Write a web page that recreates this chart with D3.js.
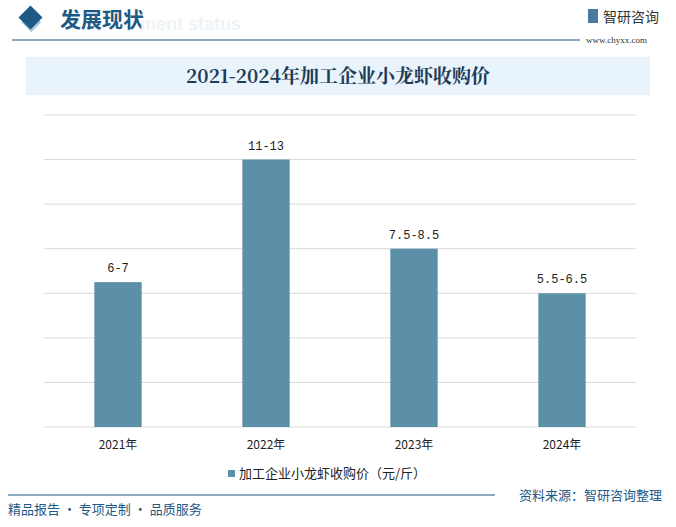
<!DOCTYPE html><html><head><meta charset="utf-8">
<script src="https://cdn.jsdelivr.net/npm/d3@7"></script>
<style>body{margin:0;background:#fff}svg{display:block;font-family:"Noto Sans CJK SC","Noto Sans",sans-serif}</style>
</head><body><svg id="c" width="676" height="527"></svg>
<script>
const categories=["2021年","2022年","2023年","2024年"];
const values=[6.5,12,8,6];
const labels=["6-7","11-13","7.5-8.5","5.5-6.5"];
const yTicks=[0,2,4,6,8,10,12,14];
const svg=d3.select("#c");
const blue="#1d5a86";
svg.append("rect").attr("x",20).attr("y",11).attr("width",14).attr("height",14).attr("fill","#a9c6dd").attr("transform","rotate(45 27 18) translate(6,0)");
svg.append("rect").attr("x",22).attr("y",9).attr("width",17).attr("height",17).attr("fill",blue).attr("transform","rotate(45 30.5 17.5)");
svg.append("text").attr("x",60).attr("y",27).attr("font-size",21).attr("fill",blue).attr("font-weight","bold").text("发展现状");
svg.append("text").attr("x",140).attr("y",30).attr("font-size",18).attr("fill","#eef3f7").attr("font-weight","bold").attr("font-family","Arial").text("ment status");
svg.append("line").attr("x1",12).attr("x2",580).attr("y1",40).attr("y2",40).attr("stroke",blue).attr("stroke-width",1.2);
svg.append("rect").attr("x",588).attr("y",9).attr("width",10).attr("height",14).attr("fill",blue).attr("opacity",0.8);
svg.append("text").attr("x",603).attr("y",22).attr("font-size",14).attr("fill","#333").text("智研咨询");
svg.append("text").attr("x",586).attr("y",43).attr("font-size",9).attr("fill","#333").attr("font-family","Liberation Serif").text("www.chyxx.com");
svg.append("rect").attr("x",26).attr("y",57).attr("width",624).attr("height",38).attr("fill","#e8f3fb");
svg.append("text").attr("x",338).attr("y",83).attr("text-anchor","middle").attr("font-size",19).attr("font-weight","bold").attr("fill","#1f3b57").attr("font-family","Noto Serif CJK SC,Liberation Serif,serif").text("2021-2024年加工企业小龙虾收购价");
const x=d3.scaleBand().domain(categories).range([44,636]).paddingInner(0.68).paddingOuter(0.34);
const y=d3.scaleLinear().domain([0,14]).range([427,115]);
svg.append("g").selectAll("line").data(yTicks).join("line").attr("x1",44).attr("x2",636).attr("y1",d=>y(d)).attr("y2",d=>y(d)).attr("stroke","#d9d9d9");
svg.append("g").selectAll("rect").data(values).join("rect").attr("x",(d,i)=>x(categories[i])).attr("width",x.bandwidth()).attr("y",d=>y(d)).attr("height",d=>427-y(d)).attr("fill","#5b90a8");
svg.append("g").selectAll("text").data(values).join("text").attr("x",(d,i)=>x(categories[i])+x.bandwidth()/2).attr("y",d=>y(d)-10).attr("text-anchor","middle").attr("font-size",12).attr("fill","#222").attr("font-family","Liberation Mono,monospace").text((d,i)=>labels[i]);
svg.append("g").selectAll("text").data(categories).join("text").attr("x",d=>x(d)+x.bandwidth()/2).attr("y",449).attr("text-anchor","middle").attr("font-size",12).attr("fill","#222").text(d=>d);
svg.append("rect").attr("x",228).attr("y",470).attr("width",7).attr("height",7).attr("fill","#5b90a8");
svg.append("text").attr("x",239).attr("y",478).attr("font-size",13).attr("fill","#222").text("加工企业小龙虾收购价（元/斤）");
svg.append("line").attr("x1",8).attr("x2",495).attr("y1",495).attr("y2",495).attr("stroke",blue).attr("stroke-width",1.2);
svg.append("text").attr("x",8).attr("y",514).attr("font-size",13).attr("fill",blue).text("精品报告 · 专项定制 · 品质服务");
svg.append("text").attr("x",519).attr("y",500).attr("font-size",13).attr("fill",blue).text("资料来源：智研咨询整理");
</script></body></html>
